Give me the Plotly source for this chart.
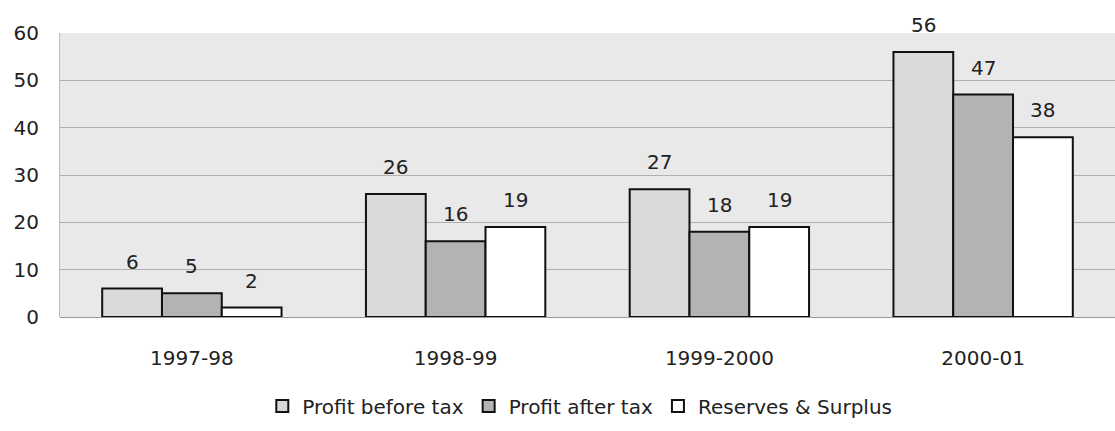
import plotly.graph_objects as go

categories = ["1997-98", "1998-99", "1999-2000", "2000-01"]
profit_before_tax = [6, 26, 27, 56]
profit_after_tax = [5, 16, 18, 47]
reserves_surplus = [2, 19, 19, 38]
y_ticks = [0, 10, 20, 30, 40, 50, 60]

series = [
    ("Profit before tax", profit_before_tax, "#d9d9d9"),
    ("Profit after tax", profit_after_tax, "#b3b3b3"),
    ("Reserves & Surplus", reserves_surplus, "#ffffff"),
]

W, H = 1115, 431
ML, MR, MT, MB = 60, 0, 33, 114
BARGAP = 0.32
FONT = "DejaVu Sans, Arial, sans-serif"

fig = go.Figure()
for name, vals, col in series:
    fig.add_trace(go.Bar(
        x=categories, y=vals, name=name,
        marker=dict(color=col, line=dict(color="#111111", width=2)),
    ))

plot_w = W - ML - MR
bar_px = plot_w / len(categories) * (1 - BARGAP) / len(series)
annotations = []
for j, (name, vals, col) in enumerate(series):
    for c, v in zip(categories, vals):
        annotations.append(dict(
            x=c, y=v, xref="x", yref="y", text=str(v), showarrow=False,
            xshift=(j - 1) * bar_px, yshift=27, yanchor="middle",
            font=dict(size=20, color="#222222", family=FONT),
        ))

fig.update_layout(
    width=W, height=H,
    margin=dict(l=ML, r=MR, t=MT, b=MB),
    barmode="group", bargap=BARGAP, bargroupgap=0,
    paper_bgcolor="white", plot_bgcolor="#e9e9e9",
    font=dict(family=FONT, size=20, color="#222222"),
    showlegend=True,
    legend=dict(orientation="h", x=0.52, xanchor="center", xref="container",
                y=0.058, yref="container", yanchor="middle",
                font=dict(size=20), itemwidth=30, tracegroupgap=0),
    annotations=annotations,
    xaxis=dict(type="category", showgrid=False, ticks="", ticklabelstandoff=27,
               tickfont=dict(size=20), showline=False),
    yaxis=dict(range=[0, 60], tickvals=y_ticks, showgrid=True,
               gridcolor="#b0b0b0", gridwidth=1, zeroline=True,
               zerolinecolor="#999999", zerolinewidth=1,
               showline=True, linecolor="#bbbbbb", linewidth=1,
               ticks="", ticklabelstandoff=16, tickfont=dict(size=20)),
)

fig.write_html("out.html")
